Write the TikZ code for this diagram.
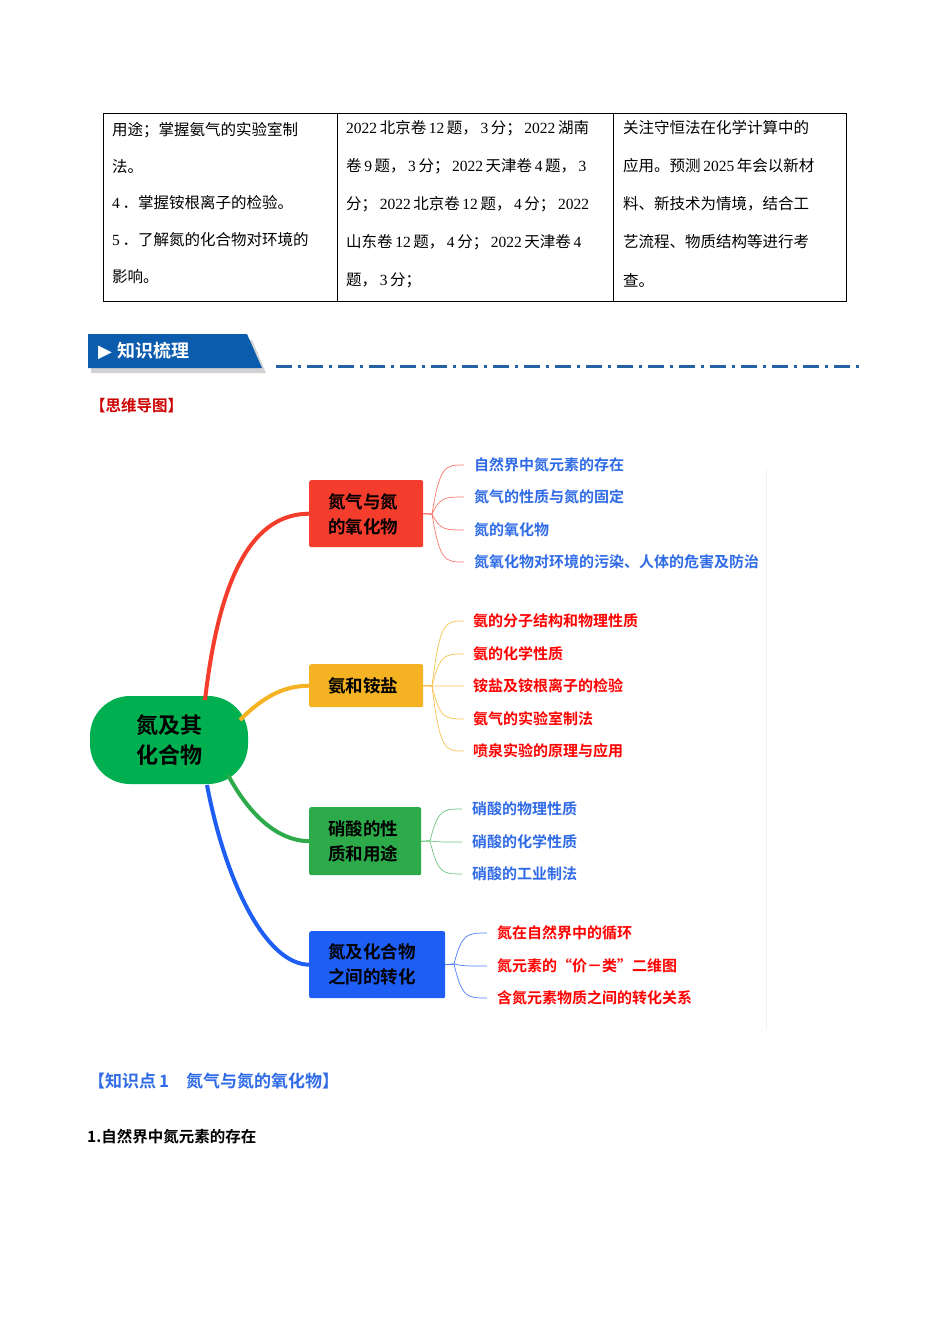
\documentclass[tikz,border=0pt]{standalone}
\usepackage{fontspec}
\setmainfont{Liberation Serif}
\newfontfamily\cjk{Noto Sans CJK SC}
\newfontfamily\cjkb{Noto Sans CJK SC Bold}
\newcommand{\nm}[1]{{\fontspec{Liberation Serif}\,#1\,}}
\newcommand{\nmf}[1]{{\fontspec{Liberation Serif}#1\,}}
\definecolor{rbox}{HTML}{F53D2D}
\definecolor{ybox}{HTML}{F5B324}
\definecolor{gbox}{HTML}{2DAA4A}
\definecolor{bbox}{HTML}{1E5EF5}
\definecolor{groot}{HTML}{00AF4F}
\definecolor{lblue}{HTML}{2F6BE6}
\definecolor{ban}{HTML}{0B5CAD}
\begin{document}
\begin{tikzpicture}[x=1pt,y=-1pt,
 tb/.style={anchor=west,inner sep=0,font=\fontsize{15.5}{17}\cjk},
 leaf/.style={anchor=west,inner sep=0,font=\fontsize{15}{17}\cjkb},
 bt/.style={font=\fontsize{17.5}{25}\cjkb,inner sep=0,align=left},
 box/.style={rounded corners=2pt,draw=none,inner sep=0,anchor=north west},
 thick1/.style={line width=4pt},
 thin1/.style={line width=0.7pt}]
\useasboundingbox (0,0) rectangle (950,1344);
% table
\draw[line width=0.6pt] (103,113) rectangle (846,301);
\draw[line width=0.6pt] (337,113) -- (337,301) (613,113) -- (613,301);
\node[tb] (a1) at (112,130) {用途；掌握氨气的实验室制};
\node[tb] (a2) at (112,167) {法。};
\node[tb] (a3) at (112,203) {\nmf{4}．掌握铵根离子的检验。};
\node[tb] (a4) at (112,240) {\nmf{5}．了解氮的化合物对环境的};
\node[tb] (a5) at (112,277) {影响。};
\node[tb] (b1) at (346,128) {\nmf{2022}北京卷\nm{12}题，\nm{3}分；\nm{2022}湖南};
\node[tb] (b2) at (346,166) {卷\nm{9}题，\nm{3}分；\nm{2022}天津卷\nm{4}题，\nm{3}};
\node[tb] (b3) at (346,204) {分；\nm{2022}北京卷\nm{12}题，\nm{4}分；\nm{2022}};
\node[tb] (b4) at (346,242) {山东卷\nm{12}题，\nm{4}分；\nm{2022}天津卷\nm{4}};
\node[tb] (b5) at (346,280) {题，\nm{3}分；};
\node[tb] (c1) at (623,128) {关注守恒法在化学计算中的};
\node[tb] (c2) at (623,166) {应用。预测\nm{2025}年会以新材};
\node[tb] (c3) at (623,204) {料、新技术为情境，结合工};
\node[tb] (c4) at (623,242) {艺流程、物质结构等进行考};
\node[tb] (c5) at (623,280) {查。};
% banner
\fill[gray!35] (91,340) -- (252,340) -- (266,373) -- (91,373) -- cycle;
\fill[ban] (88,334) -- (247,334) -- (262,368) -- (88,368) -- cycle;
\node[anchor=west,text=white,font=\fontsize{18}{20}\cjkb,inner sep=0] (bnr) at (98,351) {\fontspec{DejaVu Sans}▶\ \cjkb 知识梳理};
\draw[color=ban!80!gray,line width=3pt,dash pattern=on 16pt off 6pt on 3pt off 6pt] (276,366) -- (860,366);
\node[anchor=west,inner sep=0,text=red!80!black,font=\fontsize{15.5}{17}\cjkb] (sw) at (90,406) {【思维导图】};
% faint line
\draw[gray!12,line width=1pt] (766,470) -- (766,1030);
% root
\node[fill=groot,rounded corners=40pt,minimum width=158pt,minimum height=88pt,inner sep=0,align=center,font=\fontsize{22}{30}\cjkb] (root) at (169,740) {氮及其\\化合物};
% branches
\node[box,fill=rbox,minimum width=114pt,minimum height=67pt] (r) at (309,480) {};
\node[bt] (rt) at (363,514) {氮气与氮\\的氧化物};
\node[box,fill=ybox,minimum width=114pt,minimum height=43pt] (y) at (309,664) {};
\node[bt] (yt) at (363,686) {氨和铵盐};
\node[box,fill=gbox,minimum width=112pt,minimum height=68pt] (g) at (309,807) {};
\node[bt] (gt) at (363,841) {硝酸的性\\质和用途};
\node[box,fill=bbox,minimum width=136pt,minimum height=67pt] (b) at (309,931) {};
\node[bt] (bt) at (372,964) {氮及化合物\\之间的转化};
% main curves
\draw[thick1,rbox] (205,700) .. controls (220,570) and (255,514) .. (r.west);
\draw[thick1,ybox] (240,720) .. controls (265,695) and (285,686) .. (y.west);
\draw[thick1,gbox] (228,775) .. controls (255,825) and (285,841) .. (g.west);
\draw[thick1,bbox] (207,785) .. controls (225,880) and (265,964) .. (b.west);
% leaves
\foreach \n/\yy/\t in {l1/465/自然界中氮元素的存在,l2/497/氮气的性质与氮的固定,l3/530/氮的氧化物,l4/562/氮氧化物对环境的污染、人体的危害及防治}{
 \node[leaf,text=lblue] (\n) at (474,\yy) {\t};
 \draw[thin1,rbox!70] (r.east) -- (432,514) .. controls (440,\yy) and (445,\yy) .. (464,\yy);}
\foreach \n/\yy/\t in {m1/621/氨的分子结构和物理性质,m2/654/氨的化学性质,m3/686/铵盐及铵根离子的检验,m4/719/氨气的实验室制法,m5/751/喷泉实验的原理与应用}{
 \node[leaf,text=red] (\n) at (473,\yy) {\t};
 \draw[thin1,ybox!80] (y.east) -- (432,686) .. controls (440,\yy) and (445,\yy) .. (464,\yy);}
\foreach \n/\yy/\t in {n1/809/硝酸的物理性质,n2/842/硝酸的化学性质,n3/874/硝酸的工业制法}{
 \node[leaf,text=lblue] (\n) at (472,\yy) {\t};
 \draw[thin1,gbox!70] (g.east) -- (430,841) .. controls (438,\yy) and (443,\yy) .. (462,\yy);}
\foreach \n/\yy/\t in {o1/933/氮在自然界中的循环,o2/966/氮元素的“价－类”二维图,o3/998/含氮元素物质之间的转化关系}{
 \node[leaf,text=red] (\n) at (497,\yy) {\t};
 \draw[thin1,bbox!80] (b.east) -- (454,964) .. controls (462,\yy) and (467,\yy) .. (487,\yy);}
% bottom texts
\node[anchor=west,inner sep=0,text=lblue,font=\fontsize{17}{19}\cjkb] (k1) at (88,1081) {【知识点\,1\quad 氮气与氮的氧化物】};
\node[anchor=west,inner sep=0,font=\fontsize{15.5}{17}\cjkb] (k2) at (87,1137) {1.自然界中氮元素的存在};
\end{tikzpicture}
\end{document}
